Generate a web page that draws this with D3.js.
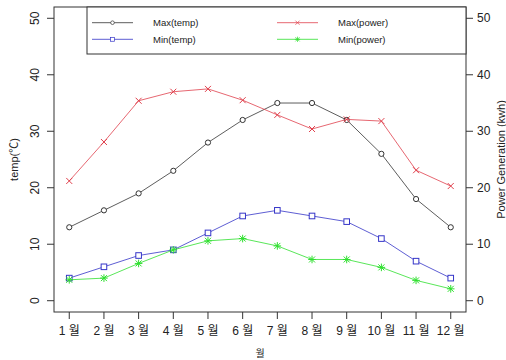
<!DOCTYPE html>
<html>
<head>
<meta charset="utf-8">
<script src="https://cdn.jsdelivr.net/npm/d3@7"></script>
<style>
  body { margin: 0; background: #fff; }
  text { font-family: "Liberation Sans", Arial, "Noto Sans CJK KR", sans-serif; fill: #222; }
</style>
</head>
<body>
<script>
var months    = [1, 2, 3, 4, 5, 6, 7, 8, 9, 10, 11, 12];
var monthLbls = months.map(function(m) { return m + " 월"; });
var maxTemp   = [13, 16, 19, 23, 28, 32, 35, 35, 32, 26, 18, 13];
var minTemp   = [4, 6, 8, 9, 12, 15, 16, 15, 14, 11, 7, 4];
var maxPower  = [21.2, 28.1, 35.4, 37.0, 37.5, 35.5, 32.9, 30.4, 32.1, 31.8, 23.1, 20.3];
var minPower  = [3.7, 4.0, 6.6, 9.0, 10.6, 11.0, 9.7, 7.3, 7.3, 5.9, 3.6, 2.1];
var yTicks    = [0, 10, 20, 30, 40, 50];

var width = 506, height = 360;
var plot = { left: 54, right: 466, top: 7, bottom: 312 };

var svg = d3.select("body").append("svg")
    .attr("width", width)
    .attr("height", height);

// R-style 4% padding around the data range
var xScale = d3.scaleLinear().domain([1 - 0.44, 12 + 0.44]).range([plot.left, plot.right]);
var yScale = d3.scaleLinear().domain([-2, 52]).range([plot.bottom, plot.top]);
var y2Scale = d3.scaleLinear().domain([-2, 52]).range([plot.bottom, plot.top]);

var series = [
    { name: "Max(temp)",  values: maxTemp,  color: "#333333", mark: "circle", scale: yScale },
    { name: "Min(temp)",  values: minTemp,  color: "#3535c8", mark: "square", scale: yScale },
    { name: "Max(power)", values: maxPower, color: "#e0404c", mark: "cross",  scale: y2Scale },
    { name: "Min(power)", values: minPower, color: "#2ee02e", mark: "star",   scale: y2Scale }
];

function drawMark(g, type, color) {
    var s = 3;
    if (type == "circle") {
        g.append("circle").attr("r", 2.6).attr("fill", "#fff").attr("stroke", color).attr("stroke-width", 1);
    } else if (type == "square") {
        g.append("rect").attr("x", -2.8).attr("y", -2.8).attr("width", 5.6).attr("height", 5.6)
            .attr("fill", "#fff").attr("stroke", color).attr("stroke-width", 1);
    } else if (type == "cross") {
        g.append("path").attr("d", "M" + (-s) + "," + (-s) + "L" + s + "," + s + "M" + (-s) + "," + s + "L" + s + "," + (-s))
            .attr("stroke", color).attr("stroke-width", 1);
    } else {
        g.append("path").attr("d", "M" + (-s) + "," + (-s) + "L" + s + "," + s + "M" + (-s) + "," + s + "L" + s + "," + (-s)
            + "M0," + (-s - 0.8) + "L0," + (s + 0.8) + "M" + (-s - 0.8) + ",0L" + (s + 0.8) + ",0")
            .attr("stroke", color).attr("stroke-width", 1);
    }
}

// lines + points
series.forEach(function(sr) {
    var line = d3.line()
        .x(function(d, i) { return xScale(months[i]); })
        .y(function(d) { return sr.scale(d); });

    svg.append("path")
        .datum(sr.values)
        .attr("d", line)
        .attr("fill", "none")
        .attr("stroke", sr.color)
        .attr("stroke-width", 0.8);

    svg.selectAll(null)
        .data(sr.values)
        .enter()
        .append("g")
        .attr("transform", function(d, i) { return "translate(" + xScale(months[i]) + "," + sr.scale(d) + ")"; })
        .each(function() { drawMark(d3.select(this), sr.mark, sr.color); });
});

// box
svg.append("rect")
    .attr("x", plot.left).attr("y", plot.top)
    .attr("width", plot.right - plot.left).attr("height", plot.bottom - plot.top)
    .attr("fill", "none").attr("stroke", "#333").attr("stroke-width", 1);

// x axis
var xAxis = svg.append("g").attr("transform", "translate(0," + plot.bottom + ")");
xAxis.selectAll(".xt").data(months).enter().append("line")
    .attr("x1", function(d) { return xScale(d); }).attr("x2", function(d) { return xScale(d); })
    .attr("y1", 0).attr("y2", 7).attr("stroke", "#333");
xAxis.selectAll(".xl").data(months).enter().append("text")
    .attr("x", function(d) { return xScale(d); })
    .attr("y", 23)
    .attr("text-anchor", "middle")
    .attr("font-size", "12px")
    .text(function(d, i) { return monthLbls[i]; });

// left y axis (rotated labels)
var yAxis = svg.append("g");
yAxis.selectAll("line").data(yTicks).enter().append("line")
    .attr("x1", plot.left - 7).attr("x2", plot.left)
    .attr("y1", function(d) { return yScale(d); }).attr("y2", function(d) { return yScale(d); })
    .attr("stroke", "#333");
yAxis.selectAll("text").data(yTicks).enter().append("text")
    .attr("transform", function(d) { return "translate(39," + yScale(d) + ") rotate(-90)"; })
    .attr("text-anchor", "middle")
    .attr("font-size", "12px")
    .text(function(d) { return d; });

// right y axis
var y2Axis = svg.append("g");
y2Axis.selectAll("line").data(yTicks).enter().append("line")
    .attr("x1", plot.right).attr("x2", plot.right + 7)
    .attr("y1", function(d) { return y2Scale(d); }).attr("y2", function(d) { return y2Scale(d); })
    .attr("stroke", "#333");
y2Axis.selectAll("text").data(yTicks).enter().append("text")
    .attr("x", plot.right + 11)
    .attr("y", function(d) { return y2Scale(d) + 4; })
    .attr("font-size", "12px")
    .text(function(d) { return d; });

// axis titles
svg.append("text")
    .attr("transform", "translate(18," + ((plot.top + plot.bottom) / 2) + ") rotate(-90)")
    .attr("text-anchor", "middle")
    .attr("font-size", "11px")
    .text("temp(℃)");
svg.append("text")
    .attr("transform", "translate(505," + ((plot.top + plot.bottom) / 2) + ") rotate(-90)")
    .attr("text-anchor", "middle")
    .attr("font-size", "11px")
    .text("Power Generation (kwh)");
svg.append("text")
    .attr("x", (plot.left + plot.right) / 2)
    .attr("y", 357)
    .attr("text-anchor", "middle")
    .attr("font-size", "10px")
    .text("월");

// legend
var legend = svg.append("g");
legend.append("rect")
    .attr("x", 87).attr("y", plot.top)
    .attr("width", plot.right - 87).attr("height", 47)
    .attr("fill", "#fff").attr("stroke", "#333").attr("stroke-width", 1);

var legendPos = [
    { x: 92, y: 22.7 }, { x: 92, y: 39.3 },
    { x: 277, y: 22.7 }, { x: 277, y: 39.3 }
];
series.forEach(function(sr, i) {
    var p = legendPos[i];
    var lg = legend.append("g").attr("transform", "translate(" + p.x + "," + p.y + ")");
    lg.append("line").attr("x1", 0).attr("x2", 41).attr("y1", 0).attr("y2", 0)
        .attr("stroke", sr.color).attr("stroke-width", 0.8);
    var mk = lg.append("g").attr("transform", "translate(20.5,0) scale(0.7)");
    drawMark(mk, sr.mark, sr.color);
    lg.append("text")
        .attr("x", 61)
        .attr("y", 3.5)
        .attr("font-size", "9.5px")
        .text(sr.name);
});
</script>
</body>
</html>
